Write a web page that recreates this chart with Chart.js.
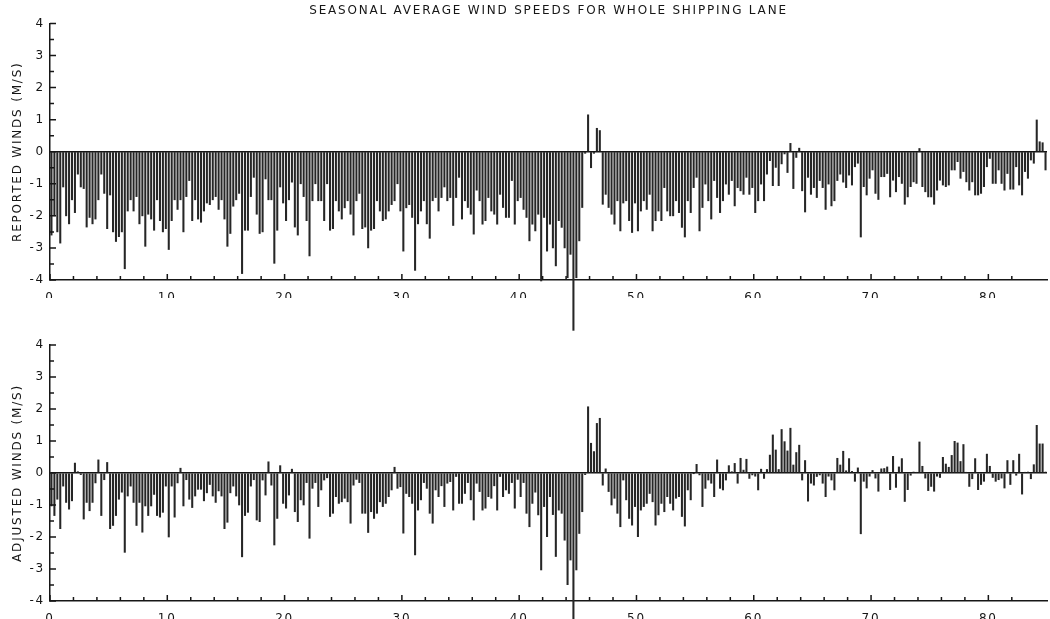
<!DOCTYPE html>
<html>
<head>
<meta charset="utf-8">
<script src="https://cdn.jsdelivr.net/npm/chart.js@4.4.1/dist/chart.umd.min.js"></script>
<style>
    html, body { margin: 0; padding: 0; background: #fff; }
    #wrap { position: relative; width: 1050px; height: 619px; }
    #wrap canvas { position: absolute; left: 0; top: 0; }
</style>
</head>
<body>
<div id="wrap">
    <canvas id="reported-chart" width="1050" height="619"></canvas>
    <canvas id="adjusted-chart" width="1050" height="619"></canvas>
</div>
<script>
// four seasonal values per year, one row per year (year 0 .. 84)
const seasonsPerYear = 4;

const reported = [
    -2.6, -2.0, -2.5, -2.85,   -1.1, -2.0, -2.25, -1.5,   -1.9, -0.7, -1.1, -1.15,   -2.35, -2.05, -2.25, -2.1,
    -1.5, -0.7, -1.3, -2.4,    -1.35, -2.5, -2.8, -2.65,  -2.5, -3.65, -1.85, -1.5,  -1.85, -1.4, -2.25, -2.0,
    -2.95, -1.95, -2.1, -2.45, -1.5, -2.15, -2.5, -2.4,   -3.05, -2.15, -1.5, -1.8,  -1.5, -2.5, -1.4, -0.9,
    -2.15, -1.5, -2.1, -2.2,   -1.85, -1.6, -1.65, -1.5,  -1.4, -1.8, -1.5, -2.1,    -2.95, -2.55, -1.7, -1.5,
    -1.3, -3.8, -2.45, -2.45,  -1.4, -0.8, -1.95, -2.55,  -2.5, -0.85, -1.5, -1.5,   -3.48, -2.45, -1.1, -1.6,
    -2.15, -1.5, -0.95, -2.35, -2.6, -1.0, -1.4, -2.15,   -3.25, -1.53, -1.0, -1.53, -1.53, -2.15, -1.0, -2.45,
    -2.4, -1.53, -1.85, -2.1,  -1.75, -1.53, -1.95, -2.6, -1.53, -1.3, -2.4, -2.35,  -3.0, -2.45, -2.4, -1.53,
    -1.85, -2.15, -2.1, -1.85, -1.65, -1.53, -1.0, -1.85, -3.1, -1.75, -1.65, -2.05, -3.7, -2.25, -1.85, -1.53,
    -2.25, -2.7, -1.53, -1.43, -1.85, -1.43, -1.1, -1.53, -1.43, -2.3, -1.43, -0.8,  -2.1, -1.53, -1.74, -1.95,
    -2.57, -1.2, -1.53, -2.26, -2.15, -1.43, -1.85, -1.95, -2.26, -1.33, -1.74, -2.05, -2.05, -0.9, -2.26, -1.53,
    -1.43, -1.8, -2.05, -2.78, -2.26, -2.47, -1.95, -4.03, -2.05, -3.1, -2.26, -3.0,  -3.56, -2.15, -2.36, -3.0,
    -3.93, -3.2, -5.57, -3.93, -2.78, -1.74, -0.05, 1.15,  -0.5, -0.05, 0.73, 0.66,   -1.64, -1.33, -1.74, -1.95,
    -2.26, -1.53, -2.47, -1.6, -1.53, -2.15, -2.52, -1.6, -2.47, -1.85, -1.53, -1.8, -1.33, -2.47, -2.15, -1.85,
    -2.15, -1.12, -1.85, -2.0, -2.0, -1.53, -1.9, -2.36,  -2.66, -1.53, -1.9, -1.12, -0.8, -2.47, -1.74, -1.01,
    -1.53, -2.1, -0.9, -1.43,  -1.9, -1.53, -1.01, -1.33, -0.9, -1.69, -1.12, -1.22, -1.33, -0.8, -1.33, -1.12,
    -1.9, -1.53, -1.01, -1.53, -0.7, -0.28, -1.06, -0.49, -1.06, -0.38, -0.07, -0.65, 0.26, -1.15, -0.18, 0.11,
    -1.22, -1.88, -0.8, -1.33, -1.12, -1.43, -0.9, -1.12, -1.8, -1.01, -1.69, -1.53,  -0.9, -0.7, -0.95, -1.12,
    -0.73, -1.04, -0.47, -0.36, -2.66, -1.09, -1.35, -0.83, -0.57, -1.3, -1.49, -0.78, -0.78, -0.68, -1.41, -0.89,
    -1.25, -0.78, -0.99, -1.64, -1.41, -1.09, -0.94, -0.99, 0.1, -1.09, -1.25, -1.41,  -1.41, -1.64, -1.2, -0.89,
    -1.04, -1.09, -1.04, -0.57, -0.57, -0.31, -0.83, -0.62, -0.94, -1.2, -0.94, -1.35, -1.35, -1.3, -1.09, -0.47,
    -0.21, -0.99, -0.99, -0.57, -0.99, -1.2, -0.68, -1.17, -1.17, -0.47, -1.04, -1.35, -0.62, -0.83, -0.26, -0.36,
    0.99, 0.31, 0.28, -0.57
];

const adjusted = [
    -1.03, -1.33, -0.82, -1.74, -0.41, -0.92, -1.13, -0.87, 0.31, 0.04, -0.05, -1.44,  -0.92, -1.18, -0.92, -0.31,
    0.41, -1.33, -0.21, 0.33,   -1.74, -1.64, -1.33, -0.82, -0.6, -2.48, -0.72, -0.41,  -0.92, -1.64, -0.92, -1.85,
    -1.03, -1.33, -1.03, -0.67, -1.33, -1.38, -1.23, -0.41, -2.0, -0.41, -1.38, -0.31,  0.15, -1.03, -0.21, -0.82,
    -1.08, -0.72, -0.51, -0.51, -0.87, -0.62, -0.36, -0.72, -0.92, -0.56, -0.72, -1.74, -1.54, -0.62, -0.41, -0.72,
    -1.0, -2.62, -1.33, -1.23,  -0.41, -0.21, -1.47, -1.52, -0.22, -0.69, 0.35, -0.38,  -2.25, -1.42, 0.23, -0.95,
    -1.1, -0.69, 0.12, -1.21,   -1.52, -0.84, -1.0, -0.3,   -2.04, -0.48, -0.3, -1.05,  -0.53, -0.22, -0.15, -1.36,
    -1.26, -0.74, -0.95, -0.9,  -0.79, -0.9, -1.57, -0.38,  -0.2, -0.3, -1.26, -1.26,   -1.86, -1.21, -1.42, -1.26,
    -0.9, -1.05, -0.95, -0.74,  -0.53, 0.18, -0.48, -0.43,  -1.88, -0.64, -0.74, -0.95, -2.56, -1.16, -0.84, -0.3,
    -0.48, -1.26, -1.57, -0.53, -0.74, -0.4, -1.05, -0.32,  -0.27, -1.16, -0.11, -0.95, -0.95, -0.64, -0.3, -0.84,
    -1.47, -0.32, -0.58, -1.16, -1.1, -0.74, -0.79, -0.4,   -1.16, -0.11, -0.74, -0.53, -0.64, -0.3, -1.1, -0.2,
    -0.74, -0.3, -1.26, -1.68,  -0.95, -0.6, -1.31, -3.03,  -1.05, -1.99, -0.74, -1.3,  -2.61, -1.16, -1.26, -2.1,
    -3.49, -2.72, -4.7, -3.03,  -1.89, -1.21, -0.05, 2.07,  0.93, 0.67, 1.55, 1.71,     -0.38, 0.13, -0.58, -1.0,
    -0.79, -1.26, -1.68, -0.22, -0.84, -1.42, -1.63, -1.05, -1.99, -1.16, -1.05, -0.95, -0.64, -0.9, -1.63, -1.31,
    -0.95, -1.21, -0.74, -0.95, -1.16, -0.79, -0.74, -1.36, -1.66, -0.53, -0.84, -0.01, 0.27, -0.06, -1.05, -0.48,
    -0.22, -0.32, -0.74, 0.41,  -0.48, -0.53, -0.22, 0.23,  0.04, 0.3, -0.32, 0.46,     0.09, 0.43, -0.17, -0.06,
    -0.1, -0.53, 0.12, -0.17,   0.11, 0.56, 1.19, 0.72,     0.11, 1.36, 0.98, 0.69,     1.4, 0.25, 0.64, 0.87,
    -0.22, 0.39, -0.88, -0.32,  -0.38, -0.11, -0.06, -0.32, -0.74, -0.1, -0.22, -0.53,  0.46, 0.25, 0.68, 0.07,
    0.45, 0.05, -0.26, 0.16,    -1.9, -0.26, -0.47, -0.1,   0.08, -0.16, -0.57, 0.13,   0.14, 0.19, -0.52, 0.52,
    -0.45, 0.19, 0.45, -0.89,   -0.52, -0.07, 0.03, 0.02,   0.97, 0.21, -0.16, -0.55,   -0.42, -0.57, -0.1, -0.14,
    0.49, 0.28, 0.18, 0.55,     0.99, 0.94, 0.36, 0.89,     0.02, -0.42, -0.18, 0.45,   -0.52, -0.36, -0.26, 0.59,
    0.21, -0.14, -0.26, -0.21,  -0.16, -0.47, 0.39, -0.36,  0.39, -0.07, 0.59, -0.66,   0.02, 0.03, -0.18, 0.26,
    1.49, 0.91, 0.91, 0.03
];

const chartTitle = 'SEASONAL AVERAGE WIND SPEEDS FOR WHOLE SHIPPING LANE';
const reportedLabel = 'REPORTED WINDS (M/S)';
const adjustedLabel = 'ADJUSTED WINDS (M/S)';

const ink = '#161616';
const barColor = '#262626';
const fontFamily = "'DejaVu Sans', 'Liberation Sans', sans-serif";

// plotter lettering is widely spaced
const spacedText = {
    id: 'spacedText',
    afterLayout(chart) {
        // centre the title over the plot, not the whole canvas
        if (chart.titleBlock) {
            chart.titleBlock.left = chart.chartArea.left;
            chart.titleBlock.right = chart.chartArea.right;
        }
    },
    beforeDraw(chart) {
        chart.ctx.letterSpacing = '1.8px';
    }
};

// tick marks point into the plot, like the original plotter axes
const innerTicks = {
    id: 'innerTicks',
    afterDraw(chart) {
        const {ctx, chartArea, scales} = chart;
        ctx.save();
        ctx.strokeStyle = ink;
        ctx.lineWidth = 1.5;
        ctx.beginPath();
        scales.y.ticks.forEach(function(t) {
            const y = scales.y.getPixelForValue(t.value);
            const len = Number.isInteger(t.value) ? 6 : 4;
            ctx.moveTo(chartArea.left, y);
            ctx.lineTo(chartArea.left + len, y);
        });
        scales.x.ticks.forEach(function(t) {
            if (t.value % 2 !== 0) return;
            const x = scales.x.getPixelForValue(t.value);
            const len = t.value % 10 === 0 ? 6 : 4;
            ctx.moveTo(x, chartArea.bottom);
            ctx.lineTo(x, chartArea.bottom - len);
        });
        ctx.stroke();
        ctx.restore();
    }
};

function makePanel(canvasId, values, axisTitle, padding, title) {
    const points = values.map(function(v, i) {
        return { x: (i + 0.5) / seasonsPerYear, y: v };
    });

    return new Chart(document.getElementById(canvasId), {
        type: 'bar',
        data: {
            datasets: [{
                data: points,
                backgroundColor: barColor,
                barThickness: 1.4,
                clip: false
            }]
        },
        options: {
            responsive: false,
            animation: false,
            layout: { padding: padding },
            plugins: {
                legend: { display: false },
                tooltip: { enabled: false },
                title: title
            },
            scales: {
                x: {
                    type: 'linear',
                    min: 0,
                    max: 85,
                    offset: false,
                    grid: { display: false },
                    border: { color: ink, width: 1.5 },
                    ticks: {
                        stepSize: 2,
                        autoSkip: false,
                        maxRotation: 0,
                        padding: 3,
                        color: ink,
                        font: { family: fontFamily, size: 12 },
                        callback: function(v) { return v % 10 === 0 ? v : ''; }
                    },
                    afterFit: function(s) { s.height = 18; }
                },
                y: {
                    min: -4,
                    max: 4,
                    grid: {
                        drawTicks: false,
                        lineWidth: 1.5,
                        color: function(c) { return c.tick && c.tick.value === 0 ? ink : 'rgba(0,0,0,0)'; }
                    },
                    border: { color: ink, width: 1.5 },
                    ticks: {
                        stepSize: 0.5,
                        autoSkip: false,
                        padding: 5,
                        color: ink,
                        font: { family: fontFamily, size: 12 },
                        callback: function(v) { return Number.isInteger(v) ? v : ''; }
                    },
                    title: {
                        display: true,
                        text: axisTitle,
                        color: ink,
                        font: { family: fontFamily, size: 12 },
                        padding: { top: 11, bottom: 0 }
                    },
                    afterFit: function(s) { s.width = 50; }
                }
            }
        },
        plugins: [spacedText, innerTicks]
    });
}

makePanel('reported-chart', reported, reportedLabel,
    { left: 0, right: 1, top: 0, bottom: 321 },
    {
        display: true,
        text: chartTitle,
        color: ink,
        font: { family: fontFamily, size: 12, weight: 'normal' },
        padding: { top: 4, bottom: 5 }
    });

makePanel('adjusted-chart', adjusted, adjustedLabel,
    { left: 0, right: 1, top: 345, bottom: 0 },
    { display: false });
</script>
</body>
</html>
